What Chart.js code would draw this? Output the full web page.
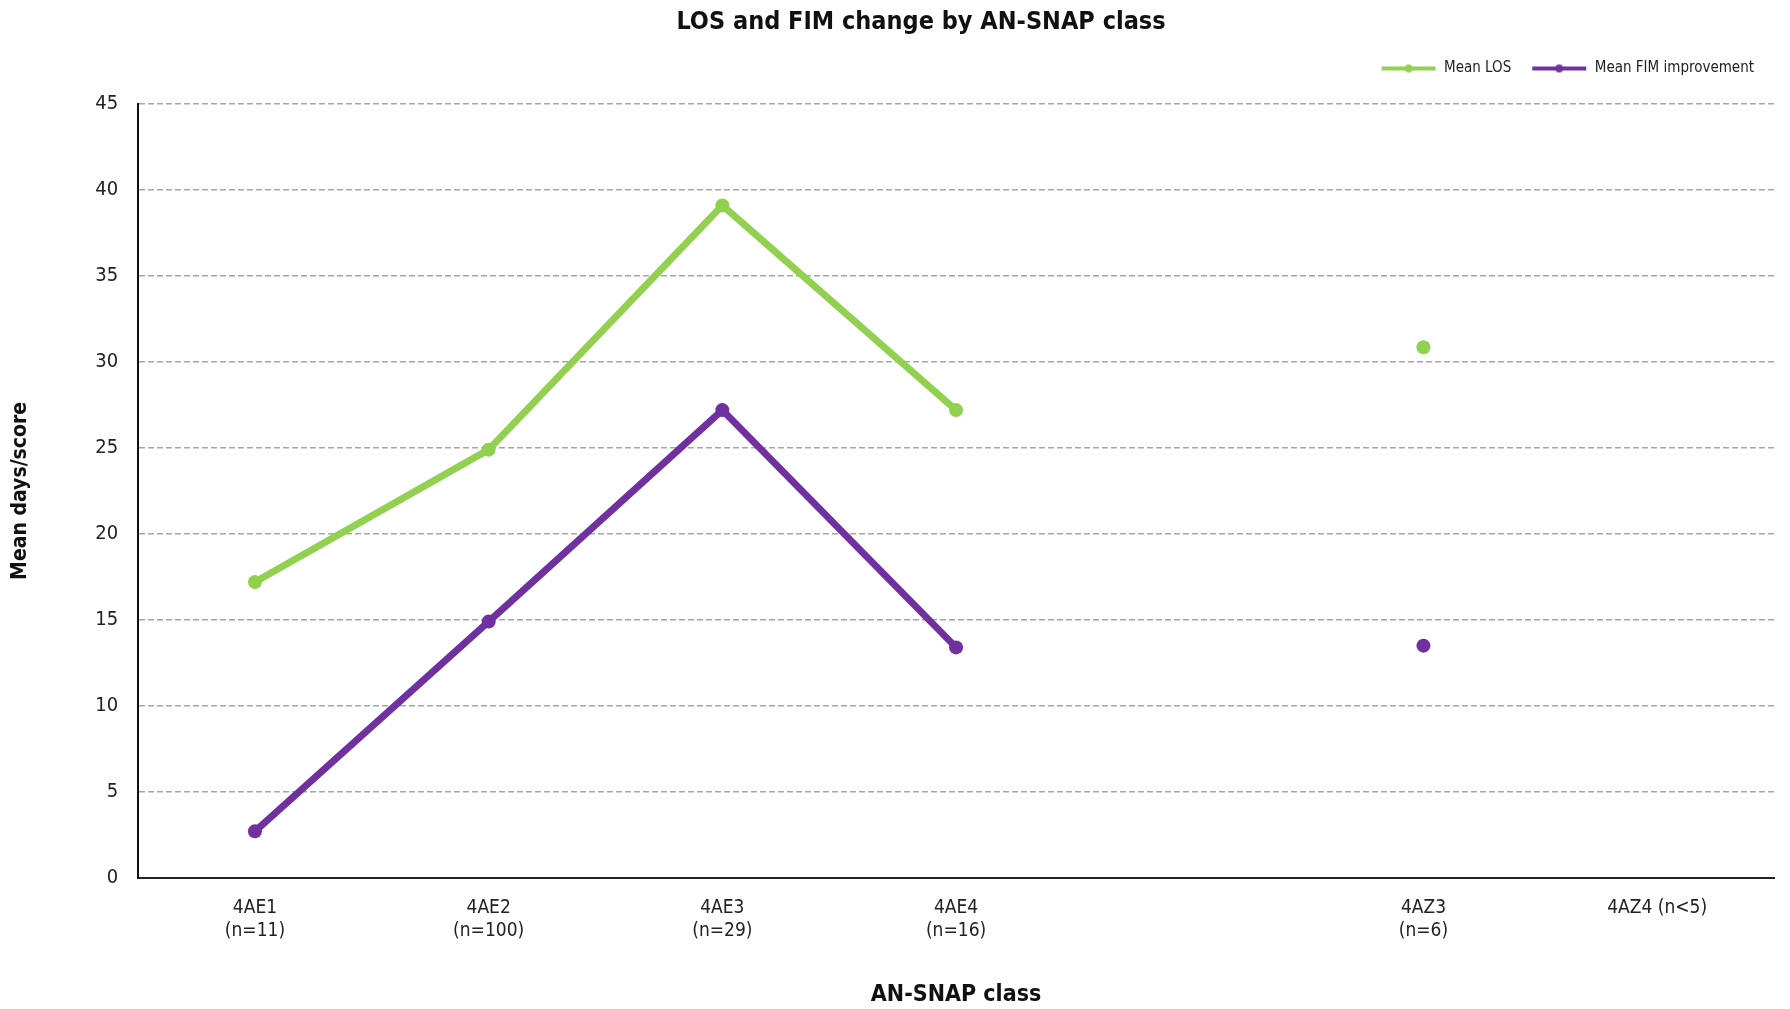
<!DOCTYPE html>
<html>
<head>
<meta charset="utf-8">
<script src="https://cdn.jsdelivr.net/npm/chart.js@4/dist/chart.umd.min.js"></script>
<style>
  html, body { margin: 0; padding: 0; background: #fff; }
  #wrap { width: 1790px; height: 1009px; }
</style>
</head>
<body>
<div id="wrap"><canvas id="losChart" width="1790" height="1009"></canvas></div>
<script>
const classLabels = [['4AE1', '(n=11)'], ['4AE2', '(n=100)'], ['4AE3', '(n=29)'], ['4AE4', '(n=16)'], '', ['4AZ3', '(n=6)'], '4AZ4 (n<5)'];
const meanLOS = [17.2, 24.9, 39.1, 27.2, null, 30.85, null];
const meanFIM = [2.7, 14.9, 27.2, 13.4, null, 13.5, null];
const yTicks = [0, 5, 10, 15, 20, 25, 30, 35, 40, 45];

const FONT = '"DejaVu Sans Condensed", "Liberation Sans Narrow", sans-serif';
const GREEN = '#92D050';
const PURPLE = '#7030A0';

function legendIcon(color) {
    const c = document.createElement('canvas');
    c.width = 56;
    c.height = 10;
    const g = c.getContext('2d');
    g.strokeStyle = color;
    g.lineWidth = 4;
    g.beginPath();
    g.moveTo(1, 5);
    g.lineTo(55, 5);
    g.stroke();
    g.fillStyle = color;
    g.beginPath();
    g.arc(28, 5, 4, 0, Math.PI * 2);
    g.fill();
    return c;
}

// push the plot down under the legend, nudge the title right
const layoutTweaks = {
    id: 'layoutTweaks',
    beforeInit(chart) {
        const fit = chart.legend.fit;
        chart.legend.fit = function() {
            fit.bind(chart.legend)();
            this.height += 18;
        };
    },
    afterLayout(chart) {
        chart.titleBlock.left += 30;
        chart.titleBlock.right += 30;
    }
};

new Chart(document.getElementById('losChart'), {
    type: 'line',
    data: {
        labels: classLabels,
        datasets: [
            {
                label: 'Mean LOS',
                data: meanLOS,
                borderColor: GREEN,
                backgroundColor: GREEN,
                borderWidth: 7,
                pointRadius: 7,
                pointHoverRadius: 7,
                pointBorderWidth: 0,
                spanGaps: false
            },
            {
                label: 'Mean FIM improvement',
                data: meanFIM,
                borderColor: PURPLE,
                backgroundColor: PURPLE,
                borderWidth: 7,
                pointRadius: 7,
                pointHoverRadius: 7,
                pointBorderWidth: 0,
                spanGaps: false
            }
        ]
    },
    plugins: [layoutTweaks],
    options: {
        responsive: false,
        animation: false,
        layout: { padding: { left: 8, right: 16, top: 4, bottom: 0 } },
        plugins: {
            title: {
                display: true,
                text: 'LOS and FIM change by AN-SNAP class',
                color: '#111',
                font: { family: FONT, size: 25, weight: 'bold' },
                padding: { top: 3, bottom: 4 }
            },
            legend: {
                position: 'top',
                align: 'end',
                labels: {
                    color: '#222',
                    font: { family: FONT, size: 15 },
                    usePointStyle: true,
                    pointStyleWidth: 56,
                    boxHeight: 10,
                    padding: 20,
                    generateLabels: function(chart) {
                        return chart.data.datasets.map((ds, i) => ({
                            text: ds.label,
                            pointStyle: legendIcon(ds.borderColor),
                            fillStyle: ds.borderColor,
                            strokeStyle: ds.borderColor,
                            lineWidth: 0,
                            fontColor: '#222',
                            datasetIndex: i
                        }));
                    }
                }
            },
            tooltip: { enabled: false }
        },
        scales: {
            x: {
                offset: true,
                grid: { display: false, drawTicks: false },
                border: { display: true, color: '#222', width: 2 },
                ticks: {
                    color: '#222',
                    font: { family: FONT, size: 19 },
                    padding: 19,
                    maxRotation: 0,
                    autoSkip: false
                },
                title: {
                    display: true,
                    text: 'AN-SNAP class',
                    color: '#111',
                    font: { family: FONT, size: 23, weight: 'bold' },
                    padding: { top: 20, bottom: 0 }
                }
            },
            y: {
                min: 0,
                max: 45,
                afterBuildTicks: function(axis) {
                    axis.ticks = yTicks.map(v => ({ value: v }));
                },
                grid: {
                    color: '#A6A6A6',
                    lineWidth: 1.5,
                    drawTicks: false
                },
                border: { display: true, color: '#111', width: 2, dash: [6, 3] },
                ticks: {
                    color: '#222',
                    font: { family: FONT, size: 20 },
                    padding: 20
                },
                title: {
                    display: true,
                    text: 'Mean days/score',
                    color: '#111',
                    font: { family: FONT, size: 21, weight: 'bold' },
                    padding: { top: 0, bottom: 42 }
                }
            }
        }
    }
});
</script>
</body>
</html>
